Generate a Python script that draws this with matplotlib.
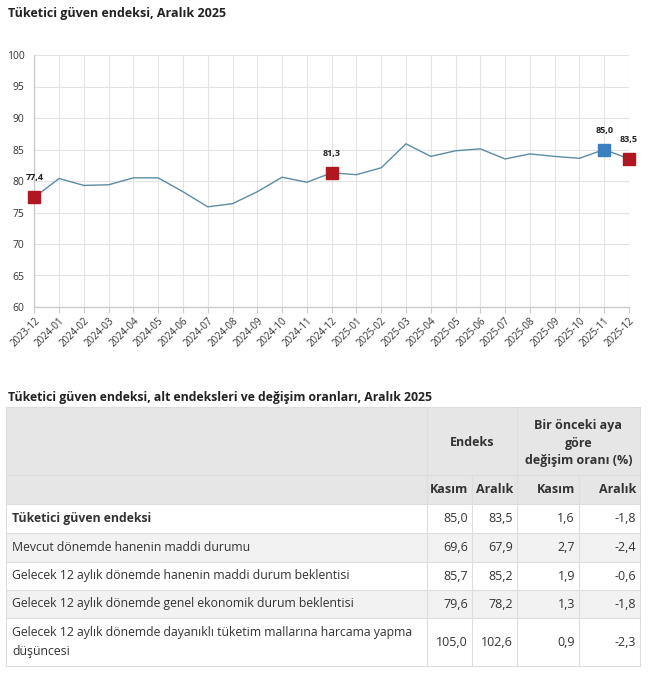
import matplotlib
matplotlib.use("Agg")
import matplotlib.pyplot as plt
from matplotlib.patches import Rectangle

plt.rcParams["font.family"] = ["Open Sans", "DejaVu Sans"]

months = [
    "2023-12", "2024-01", "2024-02", "2024-03", "2024-04", "2024-05", "2024-06",
    "2024-07", "2024-08", "2024-09", "2024-10", "2024-11", "2024-12", "2025-01",
    "2025-02", "2025-03", "2025-04", "2025-05", "2025-06", "2025-07", "2025-08",
    "2025-09", "2025-10", "2025-11", "2025-12",
]
index_values = [
    77.4, 80.4, 79.3, 79.4, 80.5, 80.5, 78.3, 75.9, 76.4, 78.3, 80.6, 79.8, 81.3,
    81.0, 82.1, 85.9, 83.9, 84.8, 85.1, 83.5, 84.3, 83.9, 83.6, 85.0, 83.5,
]
red_points = ["2023-12", "2024-12", "2025-12"]
blue_points = ["2025-11"]

table_rows = [
    "Tüketici güven endeksi",
    "Mevcut dönemde hanenin maddi durumu",
    "Gelecek 12 aylık dönemde hanenin maddi durum beklentisi",
    "Gelecek 12 aylık dönemde genel ekonomik durum beklentisi",
    "Gelecek 12 aylık dönemde dayanıklı tüketim mallarına harcama yapma\ndüşüncesi",
]
endeks_kasim = ["85,0", "69,6", "85,7", "79,6", "105,0"]
endeks_aralik = ["83,5", "67,9", "85,2", "78,2", "102,6"]
degisim_kasim = ["1,6", "2,7", "1,9", "1,3", "0,9"]
degisim_aralik = ["-1,8", "-2,4", "-0,6", "-1,8", "-2,3"]

W, H = 650, 674
fig = plt.figure(figsize=(W / 100, H / 100), dpi=100)
fig.patch.set_facecolor("white")

# ---- line chart ----
left, right, top, bottom = 34.3, 629, 55, 307
ax = fig.add_axes([left / W, 1 - bottom / H, (right - left) / W, (bottom - top) / H])
x = list(range(len(months)))
ax.plot(x, index_values, color="#5b8ca5", linewidth=1.0, zorder=3)
for name, color in [(red_points, "#b0171f"), (blue_points, "#3a7fc0")]:
    for m in name:
        i = months.index(m)
        ax.plot(i, index_values[i], marker="s", markersize=8.5, color=color,
                markeredgecolor=color, clip_on=False, zorder=4)
        ax.annotate(f"{index_values[i]:.1f}".replace(".", ","), (i, index_values[i]),
                    xytext=(0, 14), textcoords="offset points", ha="center",
                    va="center", fontsize=6.5, fontweight="bold", color="#222222",
                    annotation_clip=False)

ax.set_xlim(0, len(months) - 1)
ax.set_ylim(60, 100)
ax.set_yticks(range(60, 101, 5))
ax.set_xticks(x)
ax.set_xticklabels(months, rotation=45, ha="right", rotation_mode="anchor")
ax.tick_params(axis="x", length=4, color="#cccccc", labelsize=7, labelcolor="#333333", pad=2)
ax.tick_params(axis="y", length=0, labelsize=7.5, labelcolor="#333333", pad=7)
ax.grid(True, color="#e3e3e3", linewidth=0.8)
ax.set_axisbelow(True)
for side in ["top", "right"]:
    ax.spines[side].set_visible(False)
for side in ["left", "bottom"]:
    ax.spines[side].set_color("#cccccc")
    ax.spines[side].set_linewidth(1.0)

fig.text(8 / W, 1 - 14 / H, "Tüketici güven endeksi, Aralık 2025", fontsize=9,
         fontweight="bold", color="#222222", va="center", ha="left")

# ---- table ----
tax = fig.add_axes([0, 0, 1, 1])
tax.set_xlim(0, W)
tax.set_ylim(H, 0)
tax.axis("off")

tax.text(8, 398, "Tüketici güven endeksi, alt endeksleri ve değişim oranları, Aralık 2025",
         fontsize=8.8, fontweight="bold", color="#222222", va="center", ha="left")

col_edges = [6, 427, 472, 517, 579, 640]
row_edges = [407, 475, 504, 533, 562, 590, 618, 666]
line_c = "#dddddd"
text_c = "#333333"

# header backgrounds
tax.add_patch(Rectangle((col_edges[0], row_edges[0]), col_edges[-1] - col_edges[0],
                        row_edges[2] - row_edges[0], facecolor="#e6e6e6", edgecolor="none"))
for r in range(len(table_rows)):
    fc = "#f2f2f2" if r % 2 == 1 else "white"
    tax.add_patch(Rectangle((col_edges[0], row_edges[r + 2]), col_edges[-1] - col_edges[0],
                            row_edges[r + 3] - row_edges[r + 2], facecolor=fc,
                            edgecolor="none"))

# grid lines
for y in row_edges:
    tax.plot([col_edges[0], col_edges[-1]], [y, y], color=line_c, linewidth=0.8)
tax.plot([col_edges[0]] * 2, [row_edges[0], row_edges[-1]], color=line_c, linewidth=0.8)
tax.plot([col_edges[-1]] * 2, [row_edges[0], row_edges[-1]], color=line_c, linewidth=0.8)
for cx in [col_edges[1], col_edges[3]]:
    tax.plot([cx, cx], [row_edges[0], row_edges[-1]], color=line_c, linewidth=0.8)
for cx in [col_edges[2], col_edges[4]]:
    tax.plot([cx, cx], [row_edges[1], row_edges[-1]], color=line_c, linewidth=0.8)

hdr = dict(fontsize=9, fontweight="bold", color=text_c, va="center")
tax.text((col_edges[1] + col_edges[3]) / 2, 443, "Endeks", ha="center", **hdr)
tax.text((col_edges[3] + col_edges[5]) / 2, 443, "Bir önceki aya\ngöre\ndeğişim oranı (%)",
         ha="center", linespacing=1.45, **hdr)
sub_y = (row_edges[1] + row_edges[2]) / 2
for c, label in zip(range(1, 5), ["Kasım", "Aralık", "Kasım", "Aralık"]):
    tax.text(col_edges[c + 1] - 4, sub_y, label, ha="right", **hdr)

for r, name in enumerate(table_rows):
    yc = (row_edges[r + 2] + row_edges[r + 3]) / 2
    tax.text(12, yc, name, ha="left", va="center", fontsize=8.8, color=text_c,
             fontweight="bold" if r == 0 else "normal", linespacing=1.55)
    for c, col in enumerate([endeks_kasim, endeks_aralik, degisim_kasim, degisim_aralik]):
        tax.text(col_edges[c + 2] - 4, yc, col[r], ha="right", va="center",
                 fontsize=9, color=text_c)

fig.savefig("out.png", dpi=100)
